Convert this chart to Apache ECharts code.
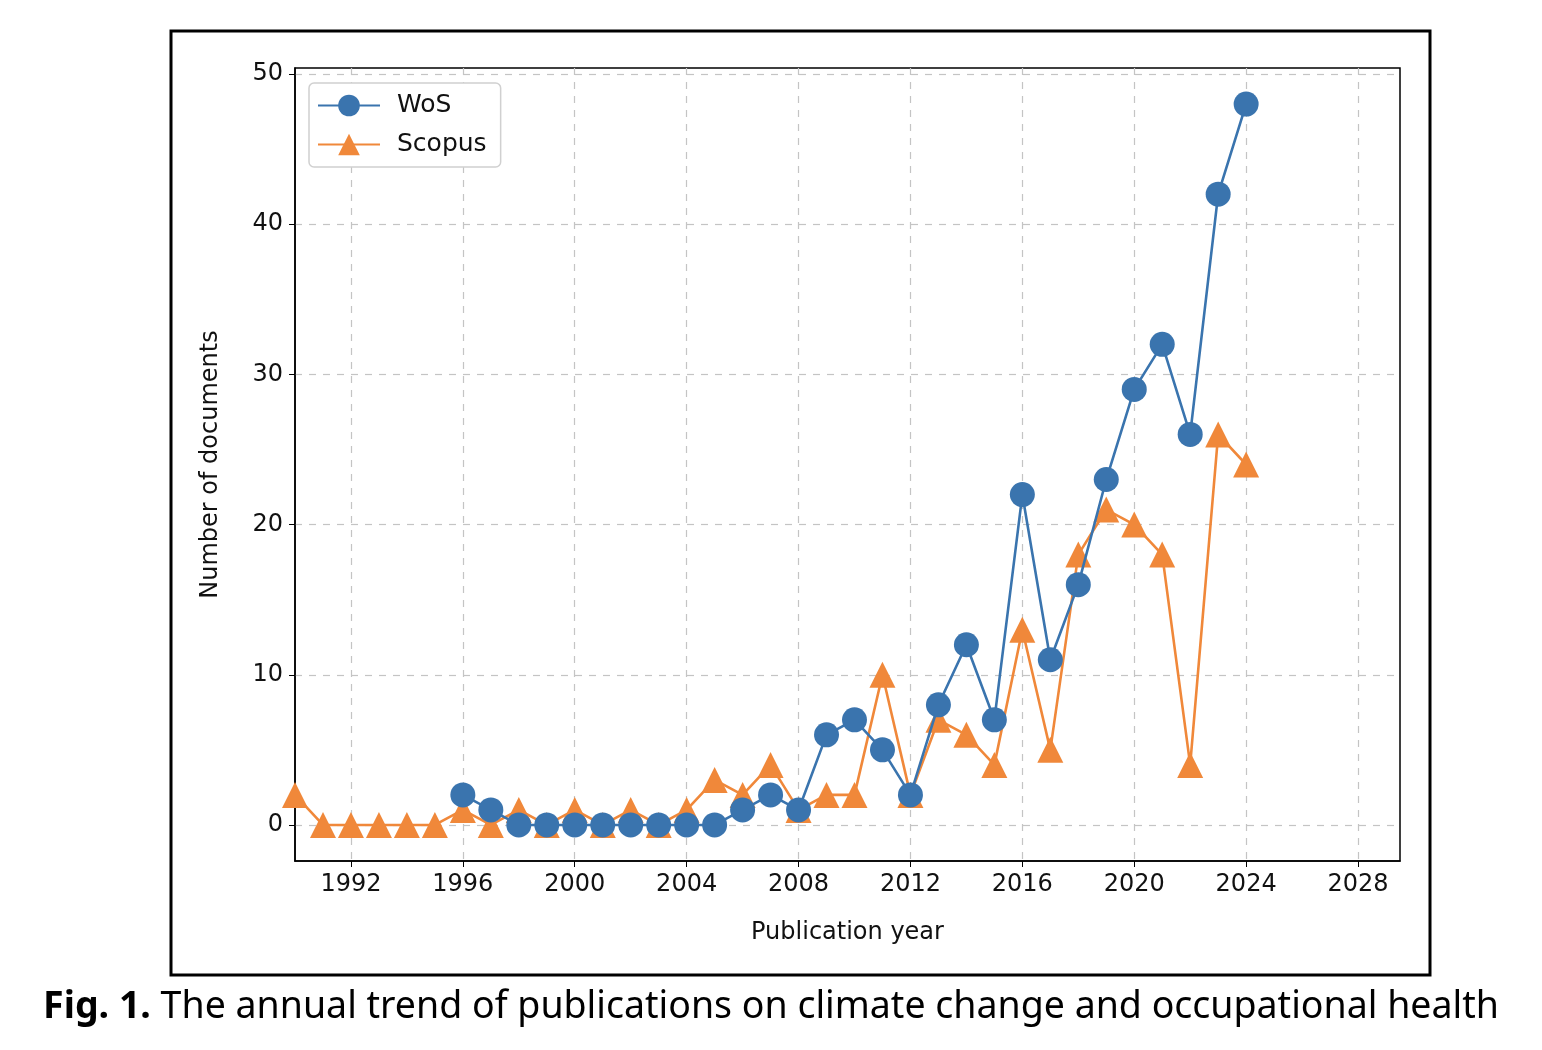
<!DOCTYPE html>
<html><head><meta charset="utf-8">
<script src="https://cdn.jsdelivr.net/npm/echarts@6/dist/echarts.min.js"></script>
<style>html,body{margin:0;padding:0;background:#fff}#c{width:1542px;height:1050px}</style>
</head><body><div id="c"></div>
<script>
const years = [1990,1991,1992,1993,1994,1995,1996,1997,1998,1999,2000,2001,2002,2003,2004,2005,2006,2007,2008,2009,2010,2011,2012,2013,2014,2015,2016,2017,2018,2019,2020,2021,2022,2023,2024];
const wosYears = [1996,1997,1998,1999,2000,2001,2002,2003,2004,2005,2006,2007,2008,2009,2010,2011,2012,2013,2014,2015,2016,2017,2018,2019,2020,2021,2022,2023,2024];
const wosValues = [2,1,0,0,0,0,0,0,0,0,1,2,1,6,7,5,2,8,12,7,22,11,16,23,29,32,26,42,48];
const scopusValues = [2,0,0,0,0,0,1,0,1,0,1,0,1,0,1,3,2,4,1,2,2,10,2,7,6,4,13,5,18,21,20,18,4,26,24];
const xTicks = [1992,1996,2000,2004,2008,2012,2016,2020,2024,2028];
const yTicks = [0,10,20,30,40,50];
const blue = '#3a74ae', orange = '#f0883a';
const font = '"DejaVu Sans", sans-serif';
const chart = echarts.init(document.getElementById('c'));
chart.setOption({
  animation:false,
  backgroundColor:'#fff',
  grid:{left:295, right:142, top:68, bottom:189, show:true, borderColor:'#000', borderWidth:1.5},
  xAxis:{type:'value', min:1990, max:2029.5,
    name:'Publication year', nameLocation:'middle', nameGap:60,
    nameTextStyle:{fontFamily:font, fontSize:24, color:'#111'},
    axisLine:{show:true, onZero:false, lineStyle:{color:'#000', width:1.5}},
    axisTick:{show:true, length:6, customValues:xTicks, lineStyle:{color:'#000'}},
    axisLabel:{customValues:xTicks, formatter:v=>String(v), fontFamily:font, fontSize:24, color:'#111', margin:12},
    splitLine:{show:true, lineStyle:{color:'#c4c4c4', type:[7,7], width:1.2}}},
  yAxis:{type:'value', min:-2.4, max:50.4,
    name:'Number of documents', nameLocation:'middle', nameGap:72,
    nameTextStyle:{fontFamily:font, fontSize:24, color:'#111'},
    axisLine:{show:true, onZero:false, lineStyle:{color:'#000', width:1.5}},
    axisTick:{show:true, length:6, customValues:yTicks, lineStyle:{color:'#000'}},
    axisLabel:{customValues:yTicks, fontFamily:font, fontSize:24, color:'#111', margin:12},
    splitLine:{show:true, lineStyle:{color:'#c4c4c4', type:[7,7], width:1.2}}},
  legend:{left:309, top:83, orient:'vertical', data:['WoS','Scopus'],
    backgroundColor:'#fff', borderColor:'#d0d0d0', borderWidth:1.5, borderRadius:5,
    padding:[10,14,10,8], itemGap:14, itemWidth:62, itemHeight:27,
    textStyle:{fontFamily:font, fontSize:25, color:'#111', padding:[0,0,0,12]}},
  series:[
    {name:'Scopus', type:'line', z:2, data:years.map((y,i)=>[y,scopusValues[i]]),
      symbol:'triangle', symbolSize:26, color:orange, itemStyle:{color:orange},
      lineStyle:{color:orange, width:2.6}},
    {name:'WoS', type:'line', z:3, data:wosYears.map((y,i)=>[y,wosValues[i]]),
      symbol:'circle', symbolSize:25, color:blue, itemStyle:{color:blue},
      lineStyle:{color:blue, width:2.6}}
  ],
  graphic:[
    {type:'rect', shape:{x:171, y:31, width:1259, height:944}, style:{fill:null, stroke:'#000', lineWidth:3}, silent:true},
    {type:'text', left:'center', top:988, style:{
      rich:{b:{fontFamily:'Noto Sans', fontWeight:'bold', fontSize:37.5, fill:'#000'},
            n:{fontFamily:'Noto Sans', fontSize:37.5, fill:'#000'}},
      text:'{b|Fig. 1.}{n| The annual trend of publications on climate change and occupational health}'}}
  ]
});
</script></body></html>
